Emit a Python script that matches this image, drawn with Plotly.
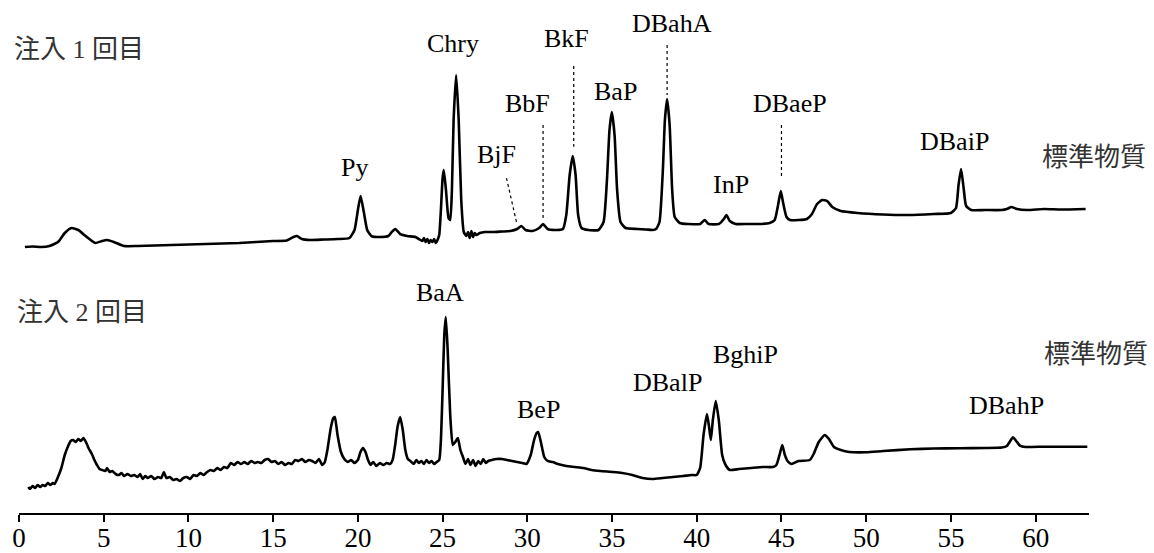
import plotly.graph_objects as go

# ---------------- data (retention time [min], detector response [a.u.]) ----------------
t_run1 = [0.35, 0.8, 1.3, 1.8, 2.3, 2.7, 3.1, 3.5, 4.0, 4.5, 4.9, 5.2, 5.6, 6.2, 7.0, 8.0, 9.0,
          10.0, 11.0, 12.0, 13.0, 14.0, 15.0, 15.8, 16.2, 16.4, 16.7, 17.2, 18.0, 18.8, 19.5,
          19.8, 20.0, 20.16, 20.35, 20.55, 20.8, 21.3, 21.8, 22.0, 22.2, 22.5, 22.9, 23.4,
          23.6, 23.8, 23.9, 24.0, 24.1, 24.2, 24.3, 24.4, 24.5, 24.6, 24.7, 24.8, 24.9, 25.0,
          25.07, 25.2, 25.35, 25.45, 25.55, 25.65, 25.8, 25.95, 26.1, 26.25, 26.4, 26.5, 26.6,
          26.7, 26.8, 26.9, 27.0, 27.2, 27.5, 28.0, 28.5, 29.0, 29.4, 29.65, 29.9, 30.3, 30.7,
          30.93, 31.2, 31.7, 32.1, 32.3, 32.5, 32.68, 32.85, 33.0, 33.2, 33.6, 34.2, 34.5, 34.7,
          34.85, 34.99, 35.15, 35.3, 35.5, 35.8, 36.5, 37.0, 37.4, 37.6, 37.8, 38.0, 38.12,
          38.25, 38.4, 38.55, 38.7, 39.0, 39.5, 40.2, 40.47, 40.7, 41.3, 41.6, 41.75, 41.95,
          42.3, 43.0, 43.7, 44.3, 44.6, 44.8, 44.96, 45.1, 45.3, 45.5, 46.0, 46.5, 46.8, 47.1,
          47.4, 47.7, 48.0, 48.5, 49.5, 51.0, 52.5, 54.0, 55.0, 55.3, 55.45, 55.6, 55.75, 55.9,
          56.2, 57.0, 58.0, 58.3, 58.57, 58.9, 59.5, 60.5, 61.5, 62.95]
y_run1 = [3, 3.5, 3, 4, 8, 17, 22, 20, 13, 7, 9, 10, 8, 4, 4, 4.5, 5,
          5.5, 6, 6.5, 7, 8, 9, 9.5, 13, 14, 11, 10, 10.5, 11, 12,
          20, 40, 54, 38, 20, 14, 13, 14, 18, 21, 16, 14, 13,
          11, 9, 12, 8, 11, 7, 10, 8, 11, 7, 10, 15, 40, 72,
          80, 60, 32, 30, 60, 130, 175, 130, 50, 18, 14, 18, 12,
          19, 13, 17, 15, 17, 18, 18, 18.5, 19, 21, 24, 20, 19, 22,
          26, 21, 20, 21, 35, 75, 94, 75, 35, 22, 20, 20, 28, 70,
          120, 138, 115, 60, 28, 22, 21, 20.5, 20, 21, 28, 80, 130,
          151, 125, 60, 33, 27, 26, 26, 30, 26, 26, 31, 35, 29,
          26, 26, 26, 27, 30, 45, 59, 47, 33, 30, 30, 31, 36, 46,
          50, 49, 43, 39, 37, 35.5, 35, 36, 37, 42, 65, 81, 62, 44,
          40, 40, 40, 41, 43, 41, 40, 41, 40.5, 41]

t_run2 = [0.55, 0.65, 0.8, 0.95, 1.1, 1.25, 1.4, 1.55, 1.7, 1.85, 2.0, 2.1, 2.3, 2.5, 2.7, 2.9,
          3.05, 3.2, 3.35, 3.5, 3.65, 3.8, 3.95, 4.1, 4.3, 4.45, 4.6, 4.75, 4.9, 5.1, 5.2, 5.35,
          5.5, 5.7, 5.9, 6.05, 6.2, 6.4, 6.6, 6.8, 7.0, 7.15, 7.3, 7.45, 7.6, 7.8, 8.0, 8.2, 8.4,
          8.55, 8.7, 8.9, 9.1, 9.3, 9.5, 9.7, 9.9, 10.1, 10.3, 10.5, 10.7, 10.9, 11.1, 11.3,
          11.5, 11.7, 11.9, 12.1, 12.3, 12.5, 12.7, 12.9, 13.1, 13.3, 13.5, 13.7, 13.9, 14.1,
          14.3, 14.5, 14.7, 14.9, 15.1, 15.3, 15.5, 15.7, 15.9, 16.1, 16.3, 16.5, 16.7, 16.9,
          17.1, 17.3, 17.5, 17.7, 17.9, 18.05, 18.2, 18.4, 18.55, 18.64, 18.8, 19.0, 19.2, 19.4,
          19.6, 19.8, 20.0, 20.15, 20.3, 20.45, 20.6, 20.75, 20.9, 21.1, 21.3, 21.5, 21.7, 21.9,
          22.05, 22.2, 22.35, 22.5, 22.65, 22.8, 22.95, 23.1, 23.3, 23.45, 23.6, 23.75, 23.9,
          24.05, 24.2, 24.35, 24.5, 24.65, 24.8, 24.9, 25.0, 25.1, 25.19, 25.3, 25.45, 25.6,
          25.75, 25.9, 26.05, 26.2, 26.35, 26.5, 26.65, 26.8, 26.95, 27.1, 27.25, 27.4, 27.55,
          27.7, 27.9, 28.2, 28.5, 28.8, 29.1, 29.4, 29.7, 29.95, 30.2, 30.4, 30.55, 30.64, 30.8,
          31.0, 31.2, 31.5, 31.8, 32.3, 32.8, 33.3, 33.8, 34.3, 35.06, 35.6, 36.2, 36.8, 37.4,
          38.0, 38.6, 39.2, 39.7, 40.0, 40.2, 40.4, 40.6, 40.72, 40.83, 40.95, 41.12, 41.3, 41.5,
          41.7, 41.95, 42.5, 43.2, 43.9, 44.5, 44.7, 44.9, 45.05, 45.2, 45.4, 45.6, 46.0, 46.67,
          46.9, 47.2, 47.55, 47.8, 48.1, 48.5, 49.0, 50.0, 51.0, 52.6, 54.0, 55.5, 57.0, 58.0,
          58.3, 58.5, 58.66, 58.85, 59.1, 59.4, 60.5, 61.5, 63.05]
y_run2 = [3, 1, 4, 2, 5, 3, 5, 4, 7, 5, 7, 6, 13, 22, 35, 44,
          49, 50, 48, 51, 49, 52, 48, 42, 36, 30, 25, 21, 20, 19, 22, 18,
          19, 16, 15, 17, 14, 16, 14, 15, 13, 16, 11, 14, 12, 14, 11, 13, 12,
          18, 12, 13, 10, 11, 9, 12, 13, 11, 15, 14, 17, 15, 18, 20,
          19, 22, 20, 23, 22, 27, 25, 28, 26, 28, 26, 29, 27, 28,
          27, 30, 31, 28, 29, 26, 28, 25, 27, 26, 30, 29, 31, 28,
          30, 29, 27, 31, 25, 28, 40, 62, 72, 73, 55, 38, 31, 28,
          30, 27, 30, 38, 42, 38, 30, 25, 28, 24, 27, 25, 27, 26,
          30, 45, 64, 73, 60, 40, 31, 29, 26, 30, 27, 29, 26,
          30, 27, 29, 26, 28, 30, 50, 100, 155, 173, 140, 75, 45,
          48, 52, 40, 33, 26, 31, 25, 30, 24, 29, 26, 31, 27,
          29, 30, 31, 31, 30, 29, 28, 27, 26, 35, 50, 57, 58, 48,
          33, 29, 28, 26, 24, 23, 22, 20, 19, 18, 17, 15, 12, 11,
          12, 13, 14, 15, 15, 22, 55, 76, 64, 50, 70, 89, 70, 35,
          25, 20, 21, 22, 23, 23, 25, 36, 45, 35, 28, 26, 29, 30,
          36, 48, 55, 51, 43, 40, 38, 37.7, 39, 40.7, 41.5, 41.7, 42, 42.5,
          44, 49, 52.7, 49, 44, 43, 43.3, 43.3, 43.3]

x_ticks = [0, 5, 10, 15, 20, 25, 30, 35, 40, 45, 50, 55, 60]

# peak names: (name, retention time of label centre, label height [a.u.])
labels_run1 = [("Py", 19.82, 82.8), ("Chry", 25.6, 207), ("BjF", 28.2, 95.5),
               ("BbF", 30.03, 147), ("BkF", 32.33, 212), ("BaP", 35.22, 158.8),
               ("DBahA", 38.53, 227), ("InP", 42.0, 65.5), ("DBaeP", 45.49, 147),
               ("DBaiP", 55.22, 108.8)]
labels_run2 = [("BaA", 24.87, 197.1), ("BeP", 30.68, 80.5), ("DBalP", 38.29, 107.8),
               ("BghiP", 42.87, 135.5), ("DBahP", 58.27, 84.8)]
# leader lines for run 1: (x0, y0, x1, y1)
leaders_run1 = [(28.77, 72, 29.37, 27.3), (30.93, 125, 30.93, 30), (32.74, 184, 32.74, 103.3),
                (38.25, 205, 38.25, 155), (45.0, 125, 45.0, 73.3)]

SERIF = "Liberation Serif, Times New Roman, serif"
CJK = "Liberation Serif, Noto Sans CJK JP, sans-serif"

fig = go.Figure()
fig.add_trace(go.Scatter(x=t_run1, y=y_run1, mode="lines", yaxis="y2",
                         line=dict(color="black", width=2.6, shape="spline", smoothing=0.5),
                         showlegend=False, hoverinfo="skip"))
fig.add_trace(go.Scatter(x=t_run2, y=y_run2, mode="lines", yaxis="y",
                         line=dict(color="black", width=2.6, shape="spline", smoothing=0.5),
                         showlegend=False, hoverinfo="skip"))

annotations = []
for name, xx, yy in labels_run1:
    annotations.append(dict(x=xx, y=yy, xref="x", yref="y2", text=name, showarrow=False,
                            xanchor="center", yanchor="middle",
                            font=dict(family=SERIF, size=26, color="black")))
for name, xx, yy in labels_run2:
    annotations.append(dict(x=xx, y=yy, xref="x", yref="y", text=name, showarrow=False,
                            xanchor="center", yanchor="middle",
                            font=dict(family=SERIF, size=26, color="black")))

annotations += [
    dict(x=-0.0068, y=201, xref="paper", yref="y2", text="注入 1 回目", showarrow=False,
         xanchor="left", yanchor="middle", font=dict(family=CJK, size=26, color="#333333")),
    dict(x=-0.0037, y=177.5, xref="paper", yref="y", text="注入 2 回目", showarrow=False,
         xanchor="left", yanchor="middle", font=dict(family=CJK, size=26, color="#333333")),
    dict(x=1.0551, y=92.5, xref="paper", yref="y2", text="標準物質", showarrow=False,
         xanchor="right", yanchor="middle", font=dict(family=CJK, size=26, color="#333333")),
    dict(x=1.057, y=135.3, xref="paper", yref="y", text="標準物質", showarrow=False,
         xanchor="right", yanchor="middle", font=dict(family=CJK, size=26, color="#333333")),
]

shapes = [dict(type="line", xref="x", yref="y2", x0=a, y0=b, x1=c, y1=d,
               line=dict(color="black", width=1.2, dash="dot")) for a, b, c, d in leaders_run1]

fig.update_layout(
    width=1154, height=553,
    margin=dict(l=19, r=65, t=0, b=39),
    paper_bgcolor="white", plot_bgcolor="white",
    xaxis=dict(range=[0, 63.15], tickvals=x_ticks, ticks="outside", ticklen=7, tickwidth=2,
               tickcolor="black", showline=True, linecolor="black", linewidth=2,
               showgrid=False, zeroline=False, automargin=False,
               anchor="free", position=0, ticklabelstandoff=-7,
               tickfont=dict(family=SERIF, size=27, color="black")),
    yaxis=dict(domain=[0.0467, 0.4942], range=[0, 230], visible=False, showgrid=False,
               zeroline=False),
    yaxis2=dict(domain=[0.5136, 1.0], range=[0, 250], visible=False, showgrid=False,
                zeroline=False),
    annotations=annotations,
    shapes=shapes,
)

fig.write_html("out.html")
